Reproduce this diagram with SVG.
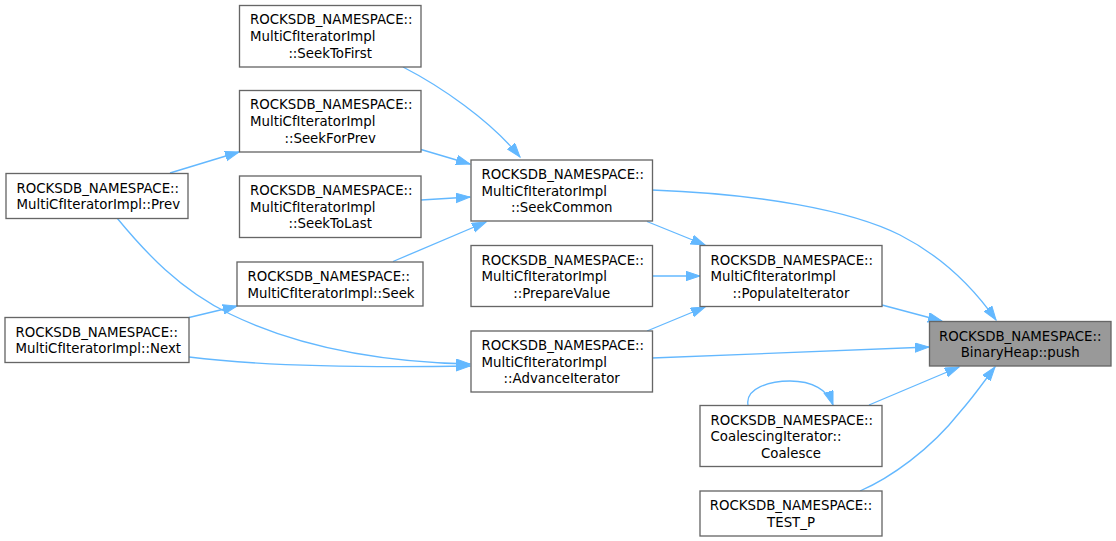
<svg xmlns="http://www.w3.org/2000/svg" width="1116" height="541" viewBox="0 0 1116 541">
<style>
.n rect{fill:#ffffff;stroke:#666666;stroke-width:1.33}
.n.h rect{fill:#999999}
text{font-family:"DejaVu Sans","Liberation Sans",sans-serif;font-size:13.33px;fill:#000000}
.c{text-anchor:middle}
.e path{fill:none;stroke:#63b8ff;stroke-width:1.33;marker-end:url(#ah)}
</style>
<defs>
<marker id="ah" markerUnits="userSpaceOnUse" markerWidth="16" markerHeight="12" refX="14" refY="5" orient="auto">
<path d="M0,0.3 L14,5 L0,9.7 z" fill="#63b8ff" stroke="#63b8ff" stroke-width="1"/>
</marker>
</defs>
<rect width="1116" height="541" fill="#ffffff"/>
<g id="edges" class="e">
<path d="M403,67 C440,86 490,120 520,157"/>
<path d="M170,173 L239,152"/>
<path d="M421,149.5 L470,164"/>
<path d="M421,200 L470,197"/>
<path d="M393,261.5 L486,222"/>
<path d="M189,317.5 L237,306"/>
<path d="M117,218 C145,252 180,290 230,314 C300,348 380,362 470,364"/>
<path d="M189,357 C260,366 350,368 470,366"/>
<path d="M647,221.5 L705,245"/>
<path d="M652,276 L700,276"/>
<path d="M647,331 L705,307"/>
<path d="M652,190 C760,194 850,210 900,235 C945,258 975,290 996,320"/>
<path d="M882,305 L942,321"/>
<path d="M652,358 L929,347"/>
<path d="M869,405 L959,367"/>
<path d="M748,405 C745,388 770,381 790,381 C812,381 828,390 833,405"/>
<path d="M860,491 C890,478 930,450 960,412 C975,395 985,380 995,367"/>
</g>
<g id="n_seektofirst" class="n">
<rect x="239.5" y="5.5" width="181.5" height="61.5"/>
<text x="250" y="24.4">ROCKSDB_NAMESPACE::</text>
<text x="250" y="41.1">MultiCfIteratorImpl</text>
<text x="330.2" y="57.8" class="c">::SeekToFirst</text>
</g>
<g id="n_seekforprev" class="n">
<rect x="239.5" y="90.5" width="181.5" height="61.5"/>
<text x="250" y="109.4">ROCKSDB_NAMESPACE::</text>
<text x="250" y="126.1">MultiCfIteratorImpl</text>
<text x="330.2" y="142.8" class="c">::SeekForPrev</text>
</g>
<g id="n_seektolast" class="n">
<rect x="239.5" y="176" width="181.5" height="61.5"/>
<text x="250" y="194.9">ROCKSDB_NAMESPACE::</text>
<text x="250" y="211.6">MultiCfIteratorImpl</text>
<text x="330.2" y="228.3" class="c">::SeekToLast</text>
</g>
<g id="n_prev" class="n">
<rect x="6" y="173.5" width="182" height="45"/>
<text x="16.5" y="192.7">ROCKSDB_NAMESPACE::</text>
<text x="16.5" y="209.4">MultiCfIteratorImpl::Prev</text>
</g>
<g id="n_seek" class="n">
<rect x="237" y="262" width="186" height="44"/>
<text x="247.5" y="281.2">ROCKSDB_NAMESPACE::</text>
<text x="247.5" y="297.9">MultiCfIteratorImpl::Seek</text>
</g>
<g id="n_next" class="n">
<rect x="5" y="317.5" width="184" height="45"/>
<text x="15.5" y="336.7">ROCKSDB_NAMESPACE::</text>
<text x="15.5" y="353.4">MultiCfIteratorImpl::Next</text>
</g>
<g id="n_seekcommon" class="n">
<rect x="471" y="160" width="181.5" height="61"/>
<text x="481.5" y="179">ROCKSDB_NAMESPACE::</text>
<text x="481.5" y="195.7">MultiCfIteratorImpl</text>
<text x="561.7" y="212.4" class="c">::SeekCommon</text>
</g>
<g id="n_preparevalue" class="n">
<rect x="471" y="245.5" width="181.5" height="61"/>
<text x="481.5" y="264.5">ROCKSDB_NAMESPACE::</text>
<text x="481.5" y="281.2">MultiCfIteratorImpl</text>
<text x="561.7" y="297.9" class="c">::PrepareValue</text>
</g>
<g id="n_advanceiterator" class="n">
<rect x="471" y="331" width="181.5" height="61"/>
<text x="481.5" y="350">ROCKSDB_NAMESPACE::</text>
<text x="481.5" y="366.7">MultiCfIteratorImpl</text>
<text x="561.7" y="383.4" class="c">::AdvanceIterator</text>
</g>
<g id="n_populateiterator" class="n">
<rect x="700" y="245.5" width="182" height="61"/>
<text x="710.5" y="264.5">ROCKSDB_NAMESPACE::</text>
<text x="710.5" y="281.2">MultiCfIteratorImpl</text>
<text x="791" y="297.9" class="c">::PopulateIterator</text>
</g>
<g id="n_push" class="n h">
<rect x="929.5" y="321.5" width="181.5" height="44.5"/>
<text x="1020.2" y="340.7" class="c">ROCKSDB_NAMESPACE::</text>
<text x="1020.2" y="357.4" class="c">BinaryHeap::push</text>
</g>
<g id="n_coalesce" class="n">
<rect x="700" y="405.5" width="182" height="61"/>
<text x="710.5" y="424.5">ROCKSDB_NAMESPACE::</text>
<text x="710.5" y="441.2">CoalescingIterator::</text>
<text x="791" y="457.9" class="c">Coalesce</text>
</g>
<g id="n_testp" class="n">
<rect x="700" y="491" width="182" height="45"/>
<text x="791" y="510.2" class="c">ROCKSDB_NAMESPACE::</text>
<text x="791" y="526.9" class="c">TEST_P</text>
</g>
</svg>
